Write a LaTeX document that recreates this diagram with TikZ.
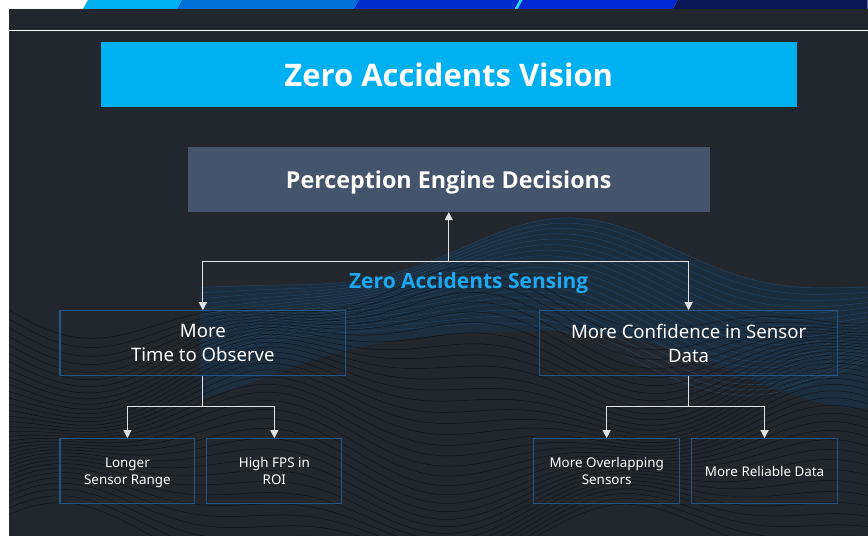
\documentclass[tikz,border=0pt]{standalone}
\usepackage{fontspec}
\setmainfont{Noto Sans}
\newfontfamily\headfont{Open Sans}
\usetikzlibrary{arrows.meta,positioning}

\definecolor{slidebg}{RGB}{34,39,46}
\definecolor{titleblue}{RGB}{0,176,240}
\definecolor{enginegray}{RGB}{68,84,106}
\definecolor{boxblue}{RGB}{36,84,132}
\definecolor{sensingblue}{RGB}{30,168,240}
\definecolor{linkgray}{RGB}{225,225,225}
\definecolor{wavegray}{RGB}{8,10,14}
\definecolor{waveblue}{RGB}{40,110,165}
\definecolor{glowblue}{RGB}{16,60,100}
\definecolor{stripeblue}{RGB}{0,112,215}
\definecolor{royalblue}{RGB}{0,45,205}
\definecolor{stripecyan}{RGB}{40,220,240}
\definecolor{deepblue}{RGB}{0,40,215}
\definecolor{navyblue}{RGB}{10,22,85}

\begin{document}
\begin{tikzpicture}[x=1pt,y=-1pt,
    box/.style={draw=boxblue, line width=1.2pt, text=white, align=center,
                inner sep=2pt, minimum height=65pt},
    smallbox/.style={box, text depth=0pt, font=\fontsize{13.4}{17}\selectfont},
    link/.style={draw=linkgray, line width=1.1pt},
    arr/.style={link, -{Triangle[width=8pt,length=8pt]}},
    wave/.style={draw=wavegray, line width=0.5pt, opacity=0.65},
    bluewave/.style={draw=waveblue, line width=0.5pt, opacity=0.35}]

    % slide background and header
    \fill[white] (0,0) rectangle (868,536);
    \fill[slidebg] (9,9) rectangle (868,536);
    \fill[titleblue]  (83,9) -- (88,0) -- (182,0) -- (177,9) -- cycle;
    \fill[stripeblue] (177,9) -- (182,0) -- (359,0) -- (354,9) -- cycle;
    \fill[royalblue]  (354,9) -- (359,0) -- (520,0) -- (515,9) -- cycle;
    \fill[stripecyan] (515,9) -- (520,0) -- (523,0) -- (518,9) -- cycle;
    \fill[deepblue]   (518,9) -- (523,0) -- (678,0) -- (673,9) -- cycle;
    \fill[navyblue]   (673,9) -- (678,0) -- (868,0) -- (868,9) -- cycle;
    \draw[white, line width=1pt] (9,31) -- (868,31);

    % wave lines behind the boxes
    \begin{scope}
        \clip (9,200) rectangle (868,536);
        \fill[glowblue, opacity=0.3] plot[domain=200:868, samples=50, smooth]
                (\x, {262 + 34*sin(0.55*\x - 40) + 10*sin(1.1*\x)})
            -- plot[domain=868:200, samples=50, smooth]
                (\x, {360 + 40*sin(0.55*\x - 10) + 12*sin(0.9*\x)}) -- cycle;
        \foreach \k in {0,...,18}
            \draw[bluewave] plot[domain=200:868, samples=70, smooth]
                (\x, {262 + 5*\k + 34*sin(0.55*\x - 40 + 4*\k) + 10*sin(1.1*\x)});
        \foreach \k in {0,...,34}
            \draw[wave] plot[domain=9:868, samples=90, smooth]
                (\x, {305 + 7*\k + 26*sin(0.6*\x + 7*\k) + 14*sin(1.3*\x - 5*\k)});
    \end{scope}

    % boxes
    \node[fill=titleblue, minimum width=696pt, minimum height=65pt, text=white, text depth=0pt,
          font=\headfont\bfseries\fontsize{31}{36}\selectfont] (vision) at (449,74.5) {Zero Accidents Vision};
    \node[fill=enginegray, minimum width=522pt, minimum height=65pt, text=white, text depth=0pt,
          font=\headfont\bfseries\fontsize{23.3}{28}\selectfont] (engine) at (449,179.5) {Perception Engine Decisions};
    \node[text=sensingblue, font=\headfont\bfseries\fontsize{21}{24}\selectfont]
          (sensing) at (469,283.5) {Zero Accidents Sensing};

    \node[box, minimum width=286pt, font=\fontsize{18.6}{24}\selectfont] (observe) at (203,343.5) {More\\Time to Observe};
    \node[box, minimum width=298pt, font=\fontsize{18.6}{24}\selectfont] (confidence) at (689,343.5) {More Confidence in Sensor\\Data};

    \node[smallbox, minimum width=135pt] (range) at (127.5,471.5) {Longer\\Sensor Range};
    \node[smallbox, minimum width=135pt] (fps) at (274.5,471.5) {High FPS in\\ROI};
    \node[smallbox, minimum width=146pt] (overlap) at (607,471.5) {More Overlapping\\Sensors};
    \node[smallbox, minimum width=146pt] (reliable) at (765,471.5) {More Reliable Data};

    % connectors
    \coordinate (split) at (449,262);
    \coordinate (lsplit) at (203,407);
    \coordinate (rsplit) at (689,407);

    \draw[arr] (split) -- (engine.south);
    \draw[arr] (split) -| (observe.north);
    \draw[arr] (split) -| (confidence.north);

    \draw[link] (observe.south) -- (lsplit);
    \draw[arr] (lsplit) -| (range.north);
    \draw[arr] (lsplit) -| (fps.north);

    \draw[link] (confidence.south) -- (rsplit);
    \draw[arr] (rsplit) -| (overlap.north);
    \draw[arr] (rsplit) -| (reliable.north);
\end{tikzpicture}
\end{document}
